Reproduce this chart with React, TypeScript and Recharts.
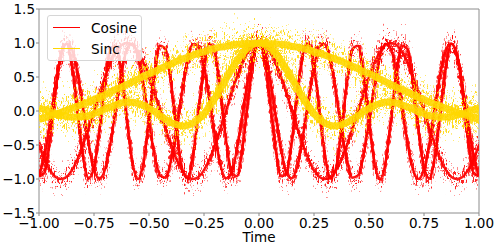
import { LineChart, Line, XAxis, YAxis, Legend, ReferenceArea } from "recharts";

const TIME = [
  -1, -0.975, -0.95, -0.925, -0.9, -0.875, -0.85, -0.825, -0.8, -0.775, -0.75, -0.725, -0.7, -0.675, -0.65, -0.625,
  -0.6, -0.575, -0.55, -0.525, -0.5, -0.475, -0.45, -0.425, -0.4, -0.375, -0.35, -0.325, -0.3, -0.275, -0.25, -0.225,
  -0.2, -0.175, -0.15, -0.125, -0.1, -0.075, -0.05, -0.025, 0, 0.025, 0.05, 0.075, 0.1, 0.125, 0.15, 0.175, 0.2,
  0.225, 0.25, 0.275, 0.3, 0.325, 0.35, 0.375, 0.4, 0.425, 0.45, 0.475, 0.5, 0.525, 0.55, 0.575, 0.6, 0.625, 0.65,
  0.675, 0.7, 0.725, 0.75, 0.775, 0.8, 0.825, 0.85, 0.875, 0.9, 0.925, 0.95, 0.975, 1,
];

// three cosines, slow to fast
const COS_A = [
  -0.5, -0.71, -0.87, -0.97, -1, -0.97, -0.87, -0.71, -0.5, -0.26, 0, 0.26, 0.5, 0.71, 0.87, 0.97, 1, 0.97, 0.87, 0.71,
  0.5, 0.26, 0, -0.26, -0.5, -0.71, -0.87, -0.97, -1, -0.97, -0.87, -0.71, -0.5, -0.26, 0, 0.26, 0.5, 0.71, 0.87, 0.97,
  1, 0.97, 0.87, 0.71, 0.5, 0.26, 0, -0.26, -0.5, -0.71, -0.87, -0.97, -1, -0.97, -0.87, -0.71, -0.5, -0.26, 0, 0.26,
  0.5, 0.71, 0.87, 0.97, 1, 0.97, 0.87, 0.71, 0.5, 0.26, 0, -0.26, -0.5, -0.71, -0.87, -0.97, -1, -0.97, -0.87, -0.71,
  -0.5,
];
const COS_B = [
  -0.95, -0.65, -0.16, 0.37, 0.8, 0.99, 0.91, 0.56, 0.05, -0.47, -0.86, -1, -0.86, -0.47, 0.05, 0.56, 0.91, 0.99, 0.8,
  0.37, -0.16, -0.65, -0.95, -0.98, -0.73, -0.27, 0.27, 0.73, 0.98, 0.95, 0.65, 0.16, -0.37, -0.8, -0.99, -0.91, -0.56,
  -0.05, 0.47, 0.86, 1, 0.86, 0.47, -0.05, -0.56, -0.91, -0.99, -0.8, -0.37, 0.16, 0.65, 0.95, 0.98, 0.73, 0.27, -0.27,
  -0.73, -0.98, -0.95, -0.65, -0.16, 0.37, 0.8, 0.99, 0.91, 0.56, 0.05, -0.47, -0.86, -1, -0.86, -0.47, 0.05, 0.56,
  0.91, 0.99, 0.8, 0.37, -0.16, -0.65, -0.95,
];
const COS_C = [
  -0.96, -0.91, -0.42, 0.28, 0.84, 0.99, 0.66, 0, -0.66, -0.99, -0.84, -0.28, 0.42, 0.91, 0.96, 0.54, -0.14, -0.76, -1,
  -0.76, -0.14, 0.54, 0.96, 0.91, 0.42, -0.28, -0.84, -0.99, -0.66, 0, 0.66, 0.99, 0.84, 0.28, -0.42, -0.91, -0.96,
  -0.54, 0.14, 0.76, 1, 0.76, 0.14, -0.54, -0.96, -0.91, -0.42, 0.28, 0.84, 0.99, 0.66, 0, -0.66, -0.99, -0.84, -0.28,
  0.42, 0.91, 0.96, 0.54, -0.14, -0.76, -1, -0.76, -0.14, 0.54, 0.96, 0.91, 0.42, -0.28, -0.84, -0.99, -0.66, 0, 0.66,
  0.99, 0.84, 0.28, -0.42, -0.91, -0.96,
];

// two sincs, wide and narrow
const SINC_WIDE = [
  -0.12, -0.1, -0.07, -0.05, -0.02, 0.01, 0.04, 0.07, 0.1, 0.13, 0.17, 0.2, 0.24, 0.28, 0.32, 0.35, 0.39, 0.43, 0.47,
  0.51, 0.55, 0.58, 0.62, 0.66, 0.69, 0.73, 0.76, 0.79, 0.82, 0.85, 0.87, 0.9, 0.92, 0.94, 0.95, 0.97, 0.98, 0.99,
  0.99, 1, 1, 1, 0.99, 0.99, 0.98, 0.97, 0.95, 0.94, 0.92, 0.9, 0.87, 0.85, 0.82, 0.79, 0.76, 0.73, 0.69, 0.66, 0.62,
  0.58, 0.55, 0.51, 0.47, 0.43, 0.39, 0.35, 0.32, 0.28, 0.24, 0.2, 0.17, 0.13, 0.1, 0.07, 0.04, 0.01, -0.02, -0.05,
  -0.07, -0.1, -0.12,
];
const SINC_NARROW = [
  0.04, 0.02, -0.01, -0.04, -0.06, -0.08, -0.09, -0.09, -0.08, -0.07, -0.04, -0.01, 0.03, 0.06, 0.09, 0.12, 0.13, 0.13,
  0.11, 0.08, 0.04, -0.01, -0.07, -0.12, -0.17, -0.2, -0.22, -0.21, -0.18, -0.12, -0.04, 0.07, 0.19, 0.33, 0.47, 0.61,
  0.74, 0.85, 0.93, 0.98, 1, 0.98, 0.93, 0.85, 0.74, 0.61, 0.47, 0.33, 0.19, 0.07, -0.04, -0.12, -0.18, -0.21, -0.22,
  -0.2, -0.17, -0.12, -0.07, -0.01, 0.04, 0.08, 0.11, 0.13, 0.13, 0.12, 0.09, 0.06, 0.03, -0.01, -0.04, -0.07, -0.08,
  -0.09, -0.09, -0.08, -0.06, -0.04, -0.01, 0.02, 0.04,
];

const X_TICKS = [-1, -0.75, -0.5, -0.25, 0, 0.25, 0.5, 0.75, 1];
const Y_TICKS = [-1.5, -1, -0.5, 0, 0.5, 1, 1.5];

const RED = "#ff0000";
const GOLD = "#ffd700";
const COS_KEYS = ["cosA", "cosB", "cosC"];
const SINC_KEYS = ["sincWide", "sincNarrow"];
const LEGEND = [
  { label: "Cosine", color: RED },
  { label: "Sinc", color: GOLD },
];

const FONT = "DejaVu Sans";

const data = TIME.map((t, i) => ({
  t,
  cosA: COS_A[i],
  cosB: COS_B[i],
  cosC: COS_C[i],
  sincWide: SINC_WIDE[i],
  sincNarrow: SINC_NARROW[i],
}));

const minus = (s: string) => s.replace("-", "\u2212");

function LegendBox() {
  return (
    <div
      style={{
        width: 93,
        height: 43,
        border: "1px solid #d6d6d6",
        borderRadius: 3,
        background: "rgba(255,255,255,0.8)",
        fontFamily: FONT,
        fontSize: 13.7,
        color: "#000",
        paddingTop: 1,
        boxSizing: "content-box",
      }}
    >
      {LEGEND.map((item) => (
        <div key={item.label} style={{ display: "flex", alignItems: "center", height: 21 }}>
          <div style={{ width: 27, height: 1.5, background: item.color, marginLeft: 5, marginRight: 11 }} />
          <span>{item.label}</span>
        </div>
      ))}
    </div>
  );
}

// vertical-only jitter: R drives y, G held at 0.5 so x stays put
function Jitter({ id, seed, scale, freq }: { id: string; seed: number; scale: number; freq: string }) {
  return (
    <filter id={id} filterUnits="userSpaceOnUse" x={0} y={0} width={498} height={249} colorInterpolationFilters="sRGB">
      <feTurbulence type="fractalNoise" baseFrequency={freq} numOctaves={1} seed={seed} result="noise" />
      <feColorMatrix in="noise" type="matrix" values="1 0 0 0 0  0 0 0 0 0.5  0 0 0 0 0  0 0 0 0 1" result="map" />
      <feDisplacementMap in="SourceGraphic" in2="map" scale={scale} xChannelSelector="G" yChannelSelector="R" />
    </filter>
  );
}

const lineBase = { type: "monotone" as const, dot: false, activeDot: false, isAnimationActive: false };

export default function App() {
  return (
    <div style={{ position: "absolute", left: 0, top: 0, width: 498, height: 249, background: "#fff" }}>
      <style>{`
        .jr1 { filter: url(#jr1); }
        .jr2 { filter: url(#jr2); }
        .jg1 { filter: url(#jg1); }
        .jg2 { filter: url(#jg2); }
      `}</style>
      <svg width={0} height={0} style={{ position: "absolute" }}>
        <defs>
          <Jitter id="jr1" seed={4} scale={45} freq="0.9 0.2" />
          <Jitter id="jr2" seed={11} scale={75} freq="0.9 0.3" />
          <Jitter id="jg1" seed={9} scale={65} freq="0.9 0.2" />
          <Jitter id="jg2" seed={17} scale={110} freq="0.9 0.3" />
        </defs>
      </svg>
      <LineChart width={498} height={249} data={data} margin={{ top: 9, right: 19, bottom: 0, left: 0 }}>
        <XAxis
          dataKey="t"
          type="number"
          domain={[-1, 1]}
          ticks={X_TICKS}
          tickFormatter={(v: number) => minus(v.toFixed(2))}
          tick={{ fontSize: 13.5, fill: "#000", fontFamily: FONT }}
          tickSize={3}
          tickMargin={2}
          axisLine={false}
          tickLine={{ stroke: "#888" }}
          height={36}
          allowDataOverflow
          label={{ value: "Time", position: "insideBottom", offset: 7, fontSize: 13.5, fill: "#000", fontFamily: FONT }}
        />
        <YAxis
          type="number"
          domain={[-1.5, 1.5]}
          ticks={Y_TICKS}
          tickFormatter={(v: number) => minus(v.toFixed(1))}
          tick={{ fontSize: 13.5, fill: "#000", fontFamily: FONT }}
          tickSize={3}
          tickMargin={1}
          axisLine={false}
          tickLine={{ stroke: "#888" }}
          width={39}
          allowDataOverflow
        />
        {/* cosine bands: thin core plus two jittered copies for the noise */}
        {COS_KEYS.map((k) => (
          <Line key={k + "-n2"} {...lineBase} className="jr2" dataKey={k} stroke={RED} strokeWidth={2.5} strokeOpacity={0.45} />
        ))}
        {COS_KEYS.map((k) => (
          <Line key={k + "-n1"} {...lineBase} className="jr1" dataKey={k} stroke={RED} strokeWidth={3} strokeOpacity={0.85} />
        ))}
        {COS_KEYS.map((k) => (
          <Line key={k} {...lineBase} dataKey={k} stroke={RED} strokeWidth={2.5} strokeOpacity={0.9} />
        ))}
        {/* sinc bands drawn over the cosines */}
        {SINC_KEYS.map((k) => (
          <Line key={k + "-n2"} {...lineBase} className="jg2" dataKey={k} stroke={GOLD} strokeWidth={4} strokeOpacity={0.55} />
        ))}
        {SINC_KEYS.map((k) => (
          <Line key={k + "-n1"} {...lineBase} className="jg1" dataKey={k} stroke={GOLD} strokeWidth={6} strokeOpacity={0.85} />
        ))}
        {SINC_KEYS.map((k) => (
          <Line key={k} {...lineBase} dataKey={k} stroke={GOLD} strokeWidth={7} strokeOpacity={0.9} />
        ))}
        <ReferenceArea x1={-1} x2={1} y1={-1.5} y2={1.5} fill="none" stroke="#8c8c8c" strokeWidth={1} ifOverflow="visible" />
        <Legend
          content={() => <LegendBox />}
          layout="horizontal"
          verticalAlign="middle"
          align="center"
          wrapperStyle={{ left: 47, top: 15, width: "auto", height: "auto" }}
        />
      </LineChart>
    </div>
  );
}
